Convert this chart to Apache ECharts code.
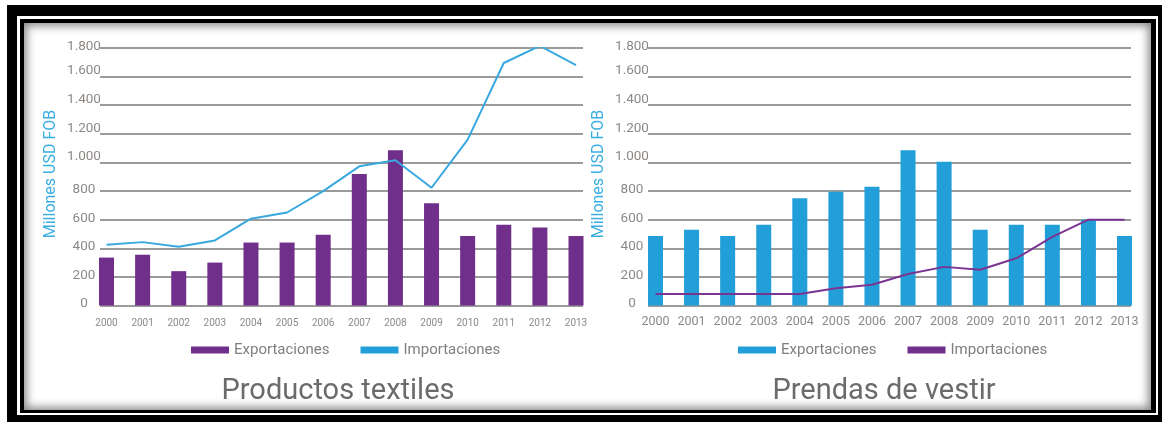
<!DOCTYPE html>
<html>
<head>
<meta charset="utf-8">
<script src="https://cdn.jsdelivr.net/npm/echarts@6/dist/echarts.min.js"></script>
<style>
  html, body { margin: 0; padding: 0; background: #fff; width: 1162px; height: 422px; overflow: hidden; }
  .frame { position: absolute; }
  #outer { left: 7px; top: 5px; width: 1160px; height: 420px; background: #000; }
  #gap { left: 17px; top: 16px; width: 1141px; height: 399px; background: #fff; }
  #inner { left: 20px; top: 19px; width: 1136px; height: 394px; background: #000; }
  #panel { left: 24px; top: 23px; width: 1127px; height: 387px; background: #fff;
           box-shadow: inset 0 0 9px 3px rgba(0,0,0,0.45); }
  #chart { position: absolute; left: 0; top: 0; width: 1162px; height: 422px; }
</style>
</head>
<body>
<div class="frame" id="outer"></div>
<div class="frame" id="gap"></div>
<div class="frame" id="inner"></div>
<div class="frame" id="panel"></div>
<div id="chart"></div>
<script>
// Años de la serie
const years = ['2000','2001','2002','2003','2004','2005','2006','2007','2008','2009','2010','2011','2012','2013'];

// Productos textiles (millones USD FOB)
const textilesExport = [335, 355, 240, 300, 440, 440, 495, 920, 1085, 715, 485, 565, 545, 485];
const textilesImport = [425, 443, 410, 455, 607, 650, 800, 973, 1015, 823, 1160, 1695, 1815, 1680];

// Prendas de vestir (millones USD FOB)
const prendasExport = [485, 530, 485, 565, 750, 795, 830, 1085, 1005, 530, 565, 565, 600, 485];
const prendasImport = [80, 80, 80, 80, 80, 120, 145, 220, 270, 250, 330, 480, 600, 600];

// Eje vertical
const yMin = 0, yMax = 1800, yStep = 200;

const PURPLE = '#702f8a';
const BLUE_BAR = '#229fd8';
const BLUE_LINE = '#38a8de';
const PURPLE_LINE = '#7a3592';
const FONT = 'Roboto, "Liberation Sans", sans-serif';
const TICK_COLOR = '#8d8986';

const chart = echarts.init(document.getElementById('chart'), null, { renderer: 'canvas' });

function fmtThousands(v) {
  return String(v).replace(/\B(?=(\d{3})+(?!\d))/g, '.');
}
function yLabel(v) {
  const s = fmtThousands(v);
  if (v >= 1000 && v <= 1600) return '{up|' + s + '}';
  return '{n|' + s + '}';
}
const yRich = {
  n: { fontFamily: FONT, fontSize: 13.5, color: TICK_COLOR, padding: [0, 0, 3, 0] },
  up: { fontFamily: FONT, fontSize: 13.5, color: TICK_COLOR, padding: [0, 0, 11, 0] }
};

const plotTop = 48, plotHeight = 257.5;

function frameGrid(left, width) {
  return { left: left, top: plotTop, width: width, height: plotHeight, containLabel: false };
}

const gridValueAxis = (gi) => ({
  gridIndex: gi, type: 'value', min: yMin, max: yMax, interval: yStep,
  axisLine: { show: false }, axisTick: { show: false },
  axisLabel: { show: true, align: 'center', margin: 16, formatter: yLabel, rich: yRich },
  splitLine: { show: true, lineStyle: { color: '#7a7a7a', width: 1.6 } }
});
const dataValueAxis = (gi) => ({
  gridIndex: gi, type: 'value', min: yMin, max: yMax, interval: yStep, show: false,
  splitLine: { show: false }
});
const hiddenCat = (gi) => ({ gridIndex: gi, type: 'category', data: years, show: false });
const dataCat = (gi, size, margin) => ({
  gridIndex: gi, type: 'category', data: years, boundaryGap: false,
  axisLine: { show: false }, axisTick: { show: false },
  axisLabel: { fontFamily: FONT, fontSize: size, color: TICK_COLOR, margin: margin, interval: 0 }
});

const legendBase = {
  icon: 'rect', itemWidth: 38, itemHeight: 7, itemGap: 31, top: 337,
  textStyle: { fontFamily: FONT, fontSize: 15, color: '#7f7f7f', lineHeight: 16 },
  formatter: (n) => n.split('|')[0],
  selectedMode: false
};

chart.setOption({
  animation: false,
  grid: [
    frameGrid(100, 483),
    frameGrid(106.5, 469.5),
    frameGrid(648, 483),
    frameGrid(655.5, 469)
  ],
  xAxis: [hiddenCat(0), dataCat(1, 10, 13), hiddenCat(2), dataCat(3, 12.5, 10)],
  yAxis: [gridValueAxis(0), dataValueAxis(1), gridValueAxis(2), dataValueAxis(3)],
  legend: [
    Object.assign({}, legendBase, { left: 186, data: ['Exportaciones|textiles', 'Importaciones|textiles'] }),
    Object.assign({}, legendBase, { left: 733, data: ['Exportaciones|prendas', 'Importaciones|prendas'] })
  ],
  series: [
    {
      name: 'Exportaciones|textiles', type: 'bar', xAxisIndex: 1, yAxisIndex: 1,
      data: textilesExport, barWidth: 15, itemStyle: { color: PURPLE }
    },
    {
      name: 'Importaciones|textiles', type: 'line', xAxisIndex: 1, yAxisIndex: 1,
      data: textilesImport, symbol: 'none', z: 5,
      lineStyle: { color: BLUE_LINE, width: 2 }, itemStyle: { color: BLUE_BAR }
    },
    {
      name: 'Exportaciones|prendas', type: 'bar', xAxisIndex: 3, yAxisIndex: 3,
      data: prendasExport, barWidth: 15, itemStyle: { color: BLUE_BAR }
    },
    {
      name: 'Importaciones|prendas', type: 'line', xAxisIndex: 3, yAxisIndex: 3,
      data: prendasImport, symbol: 'none', z: 5,
      lineStyle: { color: PURPLE_LINE, width: 2 }, itemStyle: { color: PURPLE }
    }
  ],
  graphic: [
    {
      type: 'text', x: 51, y: 174, rotation: Math.PI / 2,
      style: { text: 'Millones USD FOB', fontFamily: FONT, fontSize: 16, fill: '#3aaee2',
               align: 'center', verticalAlign: 'middle' }
    },
    {
      type: 'text', x: 599, y: 174, rotation: Math.PI / 2,
      style: { text: 'Millones USD FOB', fontFamily: FONT, fontSize: 16, fill: '#3aaee2',
               align: 'center', verticalAlign: 'middle' }
    },
    {
      type: 'text', x: 338, y: 392,
      style: { text: 'Productos textiles', fontFamily: FONT, fontSize: 29, fill: '#6b6b6b',
               align: 'center', verticalAlign: 'middle' }
    },
    {
      type: 'text', x: 884, y: 392,
      style: { text: 'Prendas de vestir', fontFamily: FONT, fontSize: 29, fill: '#6b6b6b',
               align: 'center', verticalAlign: 'middle' }
    }
  ]
});
</script>
</body>
</html>
